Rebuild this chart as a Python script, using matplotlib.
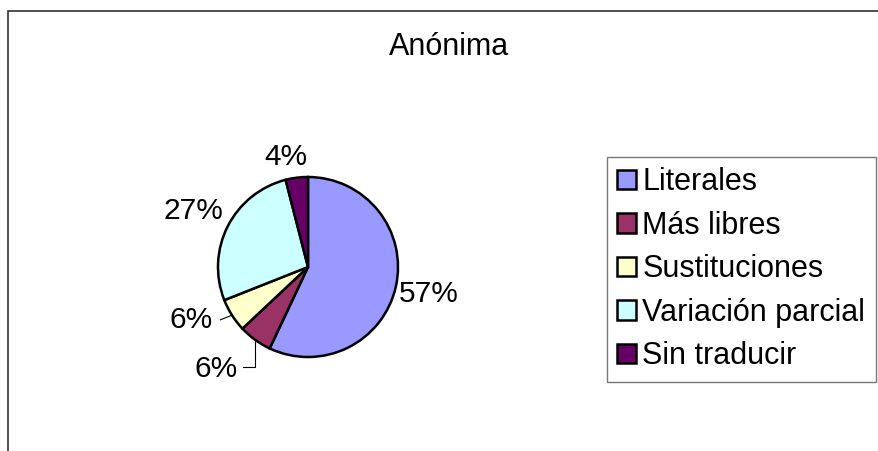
import numpy as np
import matplotlib.pyplot as plt
from matplotlib.patches import Rectangle, Patch

# chart data
title = "Anónima"
categories = ["Literales", "Más libres", "Sustituciones", "Variación parcial", "Sin traducir"]
shares = [57, 6, 6, 27, 4]
colors = ["#9999FF", "#993366", "#FFFFCC", "#CCFFFF", "#660066"]

plt.rcParams['font.family'] = ['Liberation Sans', 'DejaVu Sans']

W, H = 879, 451
fig = plt.figure(figsize=(W / 100, H / 100), dpi=100)

# outer chart frame (right and bottom edges fall outside the picture)
fig.patches.append(Rectangle((8 / W, -0.1), 1.2, 1 - 11 / H + 0.1, transform=fig.transFigure,
                             fill=False, edgecolor="#333333", linewidth=1.2))

fig.text(449 / W, 1 - 47 / H, title, ha="center", va="center", fontsize=22)

# pie axes: centre (308, 267), radius 90 px
cx, cy, r = 308, 267, 90
ax = fig.add_axes([(cx - r) / W, (H - cy - r) / H, 2 * r / W, 2 * r / H])
wedges, _ = ax.pie(shares, colors=colors, startangle=90, counterclock=False,
                   wedgeprops=dict(edgecolor="black", linewidth=1.8))
ax.set_xlim(-1, 1)
ax.set_ylim(-1, 1)
ax.set_aspect("equal")
ax.axis("off")

# percentage labels: distance (in radii) and angle shift per slice
label_dist = [1.37, 1.52, 1.42, 1.42, 1.25]
angle_shift = [0, -6, -8, 1, 4]
for i, w in enumerate(wedges):
    mid = np.deg2rad((w.theta1 + w.theta2) / 2)
    tx = label_dist[i] * np.cos(mid + np.deg2rad(angle_shift[i]))
    ty = label_dist[i] * np.sin(mid + np.deg2rad(angle_shift[i]))
    ax.text(tx, ty, f"{shares[i]}%", ha="center", va="center", fontsize=21.5, clip_on=False)
    if i in (1, 2):
        ex, ey = np.cos(mid), np.sin(mid)
        if i == 1:
            # elbow leader down from the slice edge
            ax.plot([ex, ex, tx + 0.29], [ey, ty + 0.02, ty + 0.02],
                    color="black", lw=0.8, clip_on=False)
        else:
            ax.plot([ex, tx + 0.32], [ey, ty], color="black", lw=0.8, clip_on=False)

handles = [Patch(facecolor=c, edgecolor="black", linewidth=1.8) for c in colors]
leg = fig.legend(handles, categories, loc="upper left",
                 bbox_to_anchor=(607 / W, 1 - 157 / H), fontsize=22,
                 frameon=True, fancybox=False, edgecolor="#555555",
                 handlelength=0.6, handleheight=0.6, handletextpad=0.22,
                 labelspacing=0.44, borderpad=0.34, borderaxespad=0)
leg.get_frame().set_linewidth(1.0)

fig.savefig("out.png", dpi=100)
